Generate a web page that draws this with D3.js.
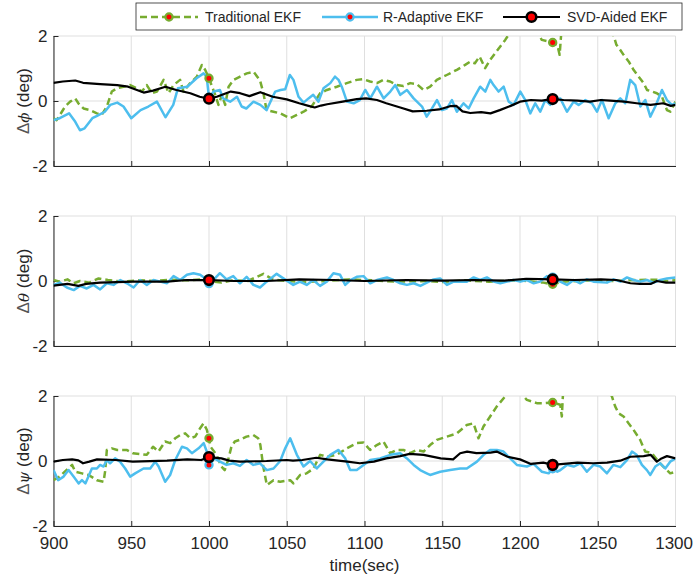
<!DOCTYPE html>
<html>
<head>
<meta charset="utf-8">
<script src="https://cdn.jsdelivr.net/npm/d3@7"></script>
<style>
  body { margin: 0; background: #fff; }
  svg { display: block; }
  text { font-family: "Liberation Sans", Arial, Helvetica, sans-serif; fill: #262626; }
</style>
</head>
<body>
<svg id="chart" width="693" height="577"></svg>
<script>
// ---- data ----
const timeDomain = [900, 1300];
const xTicks = [900, 950, 1000, 1050, 1100, 1150, 1200, 1250, 1300];
const yDomain = [-2, 2];
const yTicks = [-2, 0, 2];
const markerTimes = [1000, 1221];
const seriesNames = ["Traditional EKF", "R-Adaptive EKF", "SVD-Aided EKF"];
const angleSymbols = ["\u03D5", "\u03B8", "\u03C8"];
const xLabel = "time(sec)";

// roll error [time, deg]
const phiTrad = [[900,-0.53],[902,-0.59],[907.5,-0.17],[910.7,-0.02],[914,0.08],[916,-0.07],[919.3,-0.23],[923.6,-0.28],[927.9,-0.38],[931,-0.43],[934.3,-0.17],[937.5,0.29],[940.7,0.39],[945,0.44],[949.3,0.49],[953.6,0.39],[956.8,0.29],[960,0.49],[963.3,0.24],[966.5,0.29],[970.8,0.65],[974,0.24],[977.2,0.49],[981.4,0.65],[983.6,0.29],[987.9,0.55],[992.2,0.75],[995.4,1.11],[997.5,0.96],[1000,0.7],[1002,0.44],[1004,0.19],[1006.1,-0.12],[1008.3,0.19],[1010.4,-0.12],[1012.6,0.44],[1015.8,0.65],[1020,0.75],[1024.3,0.85],[1028.6,0.9],[1031.8,0.7],[1033,0.6],[1035,0.24],[1037,-0.28],[1041.5,-0.33],[1045.8,-0.38],[1052,-0.53],[1056.5,-0.43],[1060.8,-0.33],[1066,-0.17],[1071.5,0.24],[1075.8,0.34],[1082.2,0.44],[1088.6,0.55],[1095,0.65],[1099.4,0.67],[1103.6,0.6],[1108,0.55],[1112.2,0.65],[1116.5,0.6],[1120.8,0.49],[1125,0.46],[1129.4,0.55],[1133.6,0.52],[1138,0.34],[1142.2,0.44],[1146.5,0.65],[1152.9,0.8],[1159.4,0.96],[1164.7,1.11],[1168,1.21],[1171,1.16],[1174,1.37],[1177.6,1.01],[1180.9,1.27],[1184,1.47],[1187.3,1.68],[1190.5,1.88],[1192.7,2.04],[1197,2.4],[1203,2.7],[1208,2.5],[1212,2.05],[1214,1.88],[1218.4,1.83],[1221,1.8],[1224,1.73],[1225.5,1.42],[1227,2.4],[1235,2.8],[1245,2.7],[1255,2.3],[1260,2.04],[1262,1.73],[1264.5,1.57],[1266.6,1.42],[1270,1.21],[1273,0.96],[1276.3,0.75],[1279.5,0.55],[1281.7,0.34],[1285,0.29],[1288,0.24],[1291.3,0.13],[1294.5,-0.28],[1296.7,-0.33],[1300,-0.02]];
const phiRa = [[900,-0.59],[904,-0.53],[910,-0.38],[914,-0.64],[917,-0.9],[920,-0.84],[925,-0.53],[928,-0.46],[933,-0.33],[936.5,-0.12],[941,-0.05],[945,-0.17],[950,-0.53],[956,-0.28],[961,-0.17],[966.5,-0.02],[972,-0.5],[977,-0.12],[980,0.39],[986,0.44],[992,0.7],[996.5,0.85],[998.5,0.75],[1000,0.1],[1003,0.29],[1007,0.34],[1009,0.08],[1013.6,-0.02],[1018,0.13],[1021,-0.17],[1024,-0.23],[1028.6,-0.02],[1033,-0.12],[1037,-0.28],[1042.6,0.29],[1046,0.34],[1049,0.36],[1052,0.8],[1054.3,0.65],[1057.6,0.13],[1060.8,-0.05],[1064,0.08],[1067,0.19],[1070.4,-0.02],[1073.6,0.39],[1078,0.55],[1081,0.75],[1083.3,0.65],[1085.4,0.44],[1088.7,-0.02],[1093,-0.07],[1097,0.03],[1100.5,0.34],[1103.7,0.08],[1108,0.44],[1112.3,0.08],[1116.6,0.29],[1119.8,0.49],[1123,0.19],[1127.3,0.34],[1131.6,0.08],[1137,-0.17],[1140,-0.48],[1143.4,-0.23],[1146.6,0.03],[1149.8,-0.28],[1153,-0.23],[1156.2,0.03],[1159.4,-0.33],[1163.7,-0.07],[1167,-0.23],[1170.2,0.08],[1174.4,0.44],[1177.7,0.29],[1180.9,0.65],[1183,0.49],[1186.2,0.29],[1189.5,0.44],[1192.7,-0.02],[1195.9,-0.12],[1200.2,0.29],[1203.4,0.03],[1206.6,-0.38],[1209.8,-0.07],[1213,-0.33],[1216.3,0.03],[1219.5,-0.12],[1221,0.04],[1222.7,0.03],[1225.9,0.08],[1230.2,-0.33],[1234.5,-0.02],[1237.7,-0.12],[1242,0.03],[1246.3,-0.07],[1249.5,-0.33],[1252.7,0.03],[1257,-0.53],[1261.3,-0.07],[1264.5,0.08],[1267.7,-0.07],[1270.9,0.65],[1274.1,0.49],[1277.4,-0.17],[1280.6,0.03],[1283.8,-0.48],[1287,-0.17],[1291.3,0.34],[1294.5,0.03],[1297.7,-0.12],[1300,-0.07]];
const phiSvd = [[900,0.56],[906,0.6],[914,0.63],[919,0.56],[930,0.52],[941,0.49],[948,0.44],[958,0.26],[964,0.32],[972,0.44],[979,0.34],[988,0.24],[994,0.13],[1000,0.07],[1005,0.13],[1014,0.29],[1020,0.24],[1026,0.15],[1033,0.27],[1041,0.13],[1050,0.05],[1058,-0.07],[1064,-0.15],[1068,-0.2],[1072,-0.14],[1076,-0.1],[1086,-0.02],[1095,0.06],[1101,0.08],[1108,0.03],[1114,-0.07],[1123,-0.2],[1131,-0.32],[1140,-0.3],[1148,-0.26],[1155,-0.16],[1159,-0.15],[1163,-0.32],[1168,-0.37],[1175,-0.34],[1181,-0.38],[1187,-0.28],[1194,-0.15],[1200,-0.02],[1207,0.03],[1214,0.01],[1221,0.06],[1228,0.03],[1237,0.01],[1245,-0.02],[1252,0.03],[1258,0.01],[1267,-0.02],[1275,-0.07],[1284,-0.12],[1292,-0.07],[1297,-0.15],[1300,-0.12]];

// pitch error [time, deg]
const thetaTrad = [[900,0.03],[904,-0.02],[909,0.05],[913,-0.07],[917,0.0],[923,-0.05],[929,0.08],[935,0.03],[945,-0.02],[955,0.02],[965,0.0],[975,0.04],[985,0.02],[995,0.05],[1000,0.0],[1008,-0.05],[1015,0.02],[1025,0.0],[1035,0.22],[1041,0.05],[1050,0.0],[1060,-0.03],[1075,0.0],[1090,0.05],[1105,0.02],[1120,-0.02],[1140,0.0],[1150,-0.03],[1165,0.02],[1180,-0.02],[1200,0.02],[1215,-0.05],[1221,-0.1],[1228,-0.02],[1245,0.02],[1260,0.0],[1275,0.03],[1288,0.04],[1295,0.0],[1300,0.02]];
const thetaRa = [[900,-0.12],[904,-0.05],[908.6,-0.2],[913,-0.28],[917,-0.15],[921.4,-0.23],[925.7,-0.12],[930,-0.26],[934.3,-0.07],[938.6,-0.12],[943,0.03],[947.2,-0.07],[951.5,-0.2],[955.7,0.03],[960,-0.12],[964.3,0.03],[968.6,-0.02],[973,-0.07],[977.2,0.15],[981.5,0.03],[985.8,0.19],[990,0.24],[994.3,0.19],[997,0.1],[1000,-0.08],[1003.8,0.08],[1007,0.24],[1011.3,0.05],[1015.6,0.15],[1019.9,-0.07],[1024.2,0.13],[1028.5,-0.12],[1032.8,-0.2],[1037.1,-0.02],[1043.5,0.22],[1047.8,0.08],[1054.2,-0.12],[1058.5,-0.02],[1062.8,-0.12],[1067,0.03],[1071.4,-0.15],[1075.7,-0.02],[1080,0.24],[1084.3,0.19],[1087.6,-0.12],[1091,0.03],[1095,0.13],[1099.4,0.15],[1103.7,-0.07],[1108,0.03],[1114.4,0.11],[1118.7,0.03],[1123,-0.07],[1127.3,-0.12],[1131.6,-0.07],[1135.9,-0.15],[1140.1,-0.05],[1144.4,0.05],[1148.7,0.08],[1153,-0.12],[1157.3,-0.02],[1165.8,-0.02],[1170.2,0.11],[1174.4,0.03],[1178.7,0.11],[1183,-0.02],[1187.3,-0.07],[1191.6,-0.02],[1195.9,0.03],[1200.2,-0.02],[1204.5,0.03],[1208.8,-0.07],[1213,-0.02],[1217.3,0.15],[1221,0.12],[1225.9,-0.02],[1230.2,-0.12],[1234.5,0.03],[1238.8,-0.07],[1243,0.05],[1247.3,-0.02],[1255.9,-0.05],[1260.2,0.05],[1264.5,-0.02],[1268.8,0.11],[1273,0.03],[1277.4,-0.02],[1281.6,0.03],[1285.9,-0.05],[1290.2,0.03],[1294.5,0.08],[1300,0.11]];
const thetaSvd = [[900,-0.14],[909,-0.09],[916,-0.15],[921,-0.09],[930,-0.05],[951,-0.02],[973,-0.02],[986,0.03],[1000,0.03],[1016,0.0],[1037,0.0],[1058,0.05],[1080,0.03],[1100,0.0],[1127,0.03],[1150,0.01],[1170,0.03],[1190,0.01],[1204,0.07],[1221,0.05],[1235,0.03],[1252,0.05],[1262,0.03],[1271,-0.07],[1277,-0.09],[1284,-0.09],[1288,0.0],[1294,-0.05],[1300,-0.05]];

// yaw error [time, deg]
const psiTrad = [[900,-0.59],[904,-0.48],[908.3,-0.28],[912,-0.12],[914,-0.33],[918.3,-0.38],[922.6,-0.43],[927.9,-0.59],[932.2,-0.64],[933.3,-0.28],[934.3,0.34],[937.5,0.39],[941,0.34],[947,0.34],[951,0.24],[960,0.19],[964,0.44],[967.5,0.29],[971.8,0.6],[975,0.55],[978.3,0.7],[981.5,0.8],[984.7,0.85],[988,0.7],[991.1,0.75],[994.3,1.01],[996.5,1.16],[998.6,0.96],[1000,0.7],[1001,0.44],[1004.8,0.19],[1008,-0.17],[1010.1,-0.28],[1012.3,0.03],[1014.4,0.44],[1016.6,0.6],[1019.8,0.65],[1024.1,0.75],[1028.4,0.8],[1031.6,0.7],[1033,0.5],[1034.9,-0.17],[1037.2,-0.74],[1041.5,-0.59],[1045.8,-0.64],[1052.2,-0.59],[1054.3,-0.69],[1058.6,-0.43],[1062.8,-0.38],[1067.2,-0.23],[1071.5,0.19],[1075.8,0.13],[1082.2,0.19],[1088.6,0.39],[1095.1,0.55],[1099.4,0.57],[1103.6,0.34],[1107.9,0.49],[1112.2,0.6],[1116.5,0.24],[1120.8,0.34],[1125.1,0.34],[1129.4,0.24],[1133.7,0.34],[1138,0.29],[1142.2,0.49],[1146.5,0.65],[1153,0.75],[1159.4,0.85],[1165.8,1.11],[1170.1,1.16],[1173.3,0.7],[1176.5,1.06],[1180.8,1.37],[1185.1,1.68],[1190.5,1.99],[1194,2.4],[1198,2.3],[1202.3,1.99],[1204.4,1.88],[1210.8,1.78],[1216.2,1.78],[1221,1.8],[1225.9,1.73],[1226.9,1.37],[1228,2.4],[1240,2.8],[1250,2.6],[1259.1,1.99],[1261.2,1.68],[1263.4,1.47],[1266.6,1.37],[1269.8,1.16],[1273,0.96],[1277.3,0.65],[1280.5,0.29],[1284.8,0.24],[1289.1,-0.02],[1293.4,-0.23],[1296.6,-0.38],[1300,-0.33]];
const psiRa = [[900,-0.28],[903,-0.59],[906.5,-0.48],[909.7,-0.28],[912.9,-0.48],[916.2,-0.69],[918.3,-0.59],[920.5,-0.69],[924.7,-0.23],[927.9,-0.23],[930,-0.12],[932.2,-0.17],[934.3,0.03],[936.4,-0.07],[939.6,0.08],[942.8,-0.02],[946.1,-0.23],[949.3,-0.48],[952.5,-0.38],[957.9,-0.23],[962.2,-0.23],[965.4,-0.02],[967.6,-0.17],[971.8,-0.64],[975,-0.43],[978.3,0.03],[982.6,0.44],[985.8,0.39],[989,0.24],[993.3,0.39],[996.6,0.55],[998.5,0.3],[1000,-0.12],[1003.5,0.08],[1007,-0.02],[1011.3,-0.12],[1015.6,-0.07],[1019.9,-0.15],[1024.2,0.03],[1028.5,-0.12],[1032.8,-0.07],[1037.2,-0.28],[1041.5,-0.23],[1045.8,0.0],[1049,0.39],[1052.2,0.7],[1056.5,0.19],[1060.8,-0.17],[1065,0.0],[1069.3,-0.23],[1073.6,-0.02],[1078,0.19],[1083.3,0.34],[1087.6,0.08],[1090.8,-0.28],[1095,-0.28],[1099.4,-0.12],[1103.7,0.03],[1110,0.08],[1116.6,0.19],[1123,0.24],[1127.3,0.08],[1131.6,-0.12],[1135.8,-0.28],[1140,-0.38],[1142.2,-0.43],[1148.7,-0.33],[1155.1,-0.28],[1161.5,-0.23],[1165.8,-0.23],[1172.3,-0.02],[1176.6,0.19],[1180.8,0.34],[1185.1,0.34],[1189.4,0.29],[1193.7,0.08],[1198,-0.12],[1204.4,-0.17],[1208.7,-0.09],[1214.1,-0.33],[1218.4,-0.38],[1221,-0.24],[1224,-0.33],[1226,-0.28],[1230.2,-0.12],[1234.5,-0.17],[1238.8,-0.07],[1243,-0.33],[1247.3,-0.12],[1251.6,-0.17],[1255.9,-0.38],[1260,-0.12],[1264.5,-0.19],[1268.8,0.03],[1272,0.29],[1275,0.19],[1278.4,-0.12],[1281.6,-0.28],[1283.8,-0.43],[1287,-0.17],[1290.2,-0.07],[1293.4,-0.23],[1296.6,-0.02],[1300,0.08]];
const psiSvd = [[900,-0.02],[906,0.03],[912,0.05],[916,0.02],[919,-0.07],[923,-0.02],[928,0.05],[940,0.03],[951,-0.02],[973,0.01],[986,0.05],[995,0.03],[1000,0.12],[1008,0.08],[1013,0.01],[1020,-0.02],[1037,0.0],[1050,0.03],[1054,0.01],[1060,0.03],[1069,0.1],[1076,0.05],[1089,-0.02],[1097,-0.07],[1106,-0.02],[1114,0.08],[1123,0.15],[1129,0.22],[1138,0.19],[1149,0.08],[1157,0.05],[1161.5,0.24],[1166,0.29],[1172,0.24],[1181,0.26],[1185,0.29],[1192,0.13],[1200,0.05],[1207,-0.09],[1215,-0.05],[1221,-0.12],[1228,-0.09],[1237,-0.05],[1247,-0.07],[1256,-0.05],[1264.5,0.01],[1271,0.13],[1279.5,0.15],[1284,0.19],[1288,-0.02],[1291,0.08],[1294.5,0.15],[1300,0.08]];

// ---- styling & layout ----
const styles = [
  { color: "#77AC30", width: 2.5, dash: "7,4", r: 3.6, mw: 2.2 },
  { color: "#4DBEEE", width: 2.5, dash: null,  r: 3.6, mw: 2.2 },
  { color: "#000000", width: 2.2, dash: null,  r: 4.8, mw: 2.6 }
];
const panels = [
  { symbol: angleSymbols[0], series: [phiTrad, phiRa, phiSvd] },
  { symbol: angleSymbols[1], series: [thetaTrad, thetaRa, thetaSvd] },
  { symbol: angleSymbols[2], series: [psiTrad, psiRa, psiSvd] }
];

const W = 693, H = 577;
const plotLeft = 53.5, plotRight = 675.5;
const panelTops = [36, 216, 396];
const panelH = 130;
const axisColor = "#262626";
const gridColor = "#dfdfdf";

const svg = d3.select("#chart");
svg.append("rect").attr("width", W).attr("height", H).attr("fill", "#fff");

const x = d3.scaleLinear().domain(timeDomain).range([plotLeft, plotRight]);

panels.forEach((p, pi) => {
  const top = panelTops[pi], bottom = top + panelH;
  const y = d3.scaleLinear().domain(yDomain).range([bottom, top]);
  const g = svg.append("g");

  // grid
  g.append("g").selectAll("line").data(xTicks).join("line")
    .attr("x1", d => x(d)).attr("x2", d => x(d))
    .attr("y1", top).attr("y2", bottom)
    .attr("stroke", gridColor).attr("stroke-width", 1);
  g.append("g").selectAll("line").data(yTicks).join("line")
    .attr("x1", plotLeft).attr("x2", plotRight)
    .attr("y1", d => y(d)).attr("y2", d => y(d))
    .attr("stroke", gridColor).attr("stroke-width", 1);

  // axes (ticks point inward)
  const xAxis = d3.axisBottom(x).tickValues(xTicks).tickSizeInner(-5).tickSizeOuter(0).tickPadding(11)
    .tickFormat(pi === 2 ? d3.format("d") : () => "");
  const gx = g.append("g").attr("transform", `translate(0,${bottom})`).call(xAxis);
  const yAxis = d3.axisLeft(y).tickValues(yTicks).tickSizeInner(-5).tickSizeOuter(0).tickPadding(6)
    .tickFormat(d => (d < 0 ? "-" : "") + Math.abs(d));
  const gy = g.append("g").attr("transform", `translate(${plotLeft},0)`).call(yAxis);
  [gx, gy].forEach(a => {
    a.select(".domain").attr("stroke", axisColor).attr("stroke-width", 1);
    a.selectAll(".tick line").attr("stroke", axisColor).attr("stroke-width", 1);
    a.selectAll(".tick text").attr("fill", axisColor)
      .style("font-family", '"Liberation Sans", Arial, sans-serif').style("font-size", "17px");
  });
  gx.select(".tick:last-of-type line").remove();
  // keep the last time label inside the page edge
  gx.select(".tick:last-of-type text").attr("text-anchor", "end").attr("x", 17);

  // y label
  const lbl = g.append("text")
    .attr("transform", `translate(23,${(top + bottom) / 2}) rotate(-90)`)
    .attr("text-anchor", "middle").attr("dy", "0.35em")
    .style("font-size", "17px");
  lbl.append("tspan").attr("fill", "#555").text("\u0394");
  lbl.append("tspan").style("font-style", "italic").style("font-family", '"DejaVu Serif", serif')
    .style("font-size", "15px").text(p.symbol);
  lbl.append("tspan").text(" (deg)");

  // clip region
  const clipId = "clip" + pi;
  svg.append("clipPath").attr("id", clipId).append("rect")
    .attr("x", plotLeft).attr("y", top).attr("width", plotRight - plotLeft).attr("height", panelH);

  const line = d3.line().x(d => x(d[0])).y(d => y(d[1]));
  const lg = g.append("g").attr("clip-path", `url(#${clipId})`);
  p.series.forEach((s, si) => {
    const st = styles[si];
    lg.append("path").datum(s)
      .attr("d", line).attr("fill", "none")
      .attr("stroke", st.color).attr("stroke-width", st.width)
      .attr("stroke-linejoin", "round")
      .attr("stroke-dasharray", st.dash);
  });

  // markers at the selected epochs, read from each series
  p.series.forEach((s, si) => {
    const st = styles[si];
    const pts = markerTimes.map(t => s.find(d => d[0] === t)).filter(Boolean);
    g.append("g").selectAll("circle").data(pts).join("circle")
      .attr("cx", d => x(d[0])).attr("cy", d => y(d[1]))
      .attr("r", st.r).attr("fill", "#ff0000")
      .attr("stroke", st.color).attr("stroke-width", st.mw);
  });
});

// x label
svg.append("text").attr("x", (plotLeft + plotRight) / 2).attr("y", 571)
  .attr("text-anchor", "middle").style("font-size", "17px").text(xLabel);

// legend
const leg = svg.append("g");
leg.append("rect").attr("x", 136).attr("y", 3).attr("width", 546).attr("height", 27)
  .attr("fill", "#fff").attr("stroke", axisColor).attr("stroke-width", 0.8);
const legItems = [
  { x0: 140, x1: 198, tx: 205 },
  { x0: 322, x1: 378, tx: 383 },
  { x0: 503, x1: 560, tx: 567 }
];
const legY = 17;
seriesNames.forEach((name, i) => {
  const st = styles[i], it = legItems[i];
  leg.append("line").attr("x1", it.x0).attr("x2", it.x1).attr("y1", legY).attr("y2", legY)
    .attr("stroke", st.color).attr("stroke-width", st.width).attr("stroke-dasharray", st.dash);
  leg.append("circle").attr("cx", (it.x0 + it.x1) / 2).attr("cy", legY)
    .attr("r", st.r).attr("fill", "#ff0000").attr("stroke", st.color).attr("stroke-width", st.mw);
  leg.append("text").attr("x", it.tx).attr("y", legY).attr("dy", "0.36em")
    .style("font-size", "14px").text(name);
});
</script>
</body>
</html>
